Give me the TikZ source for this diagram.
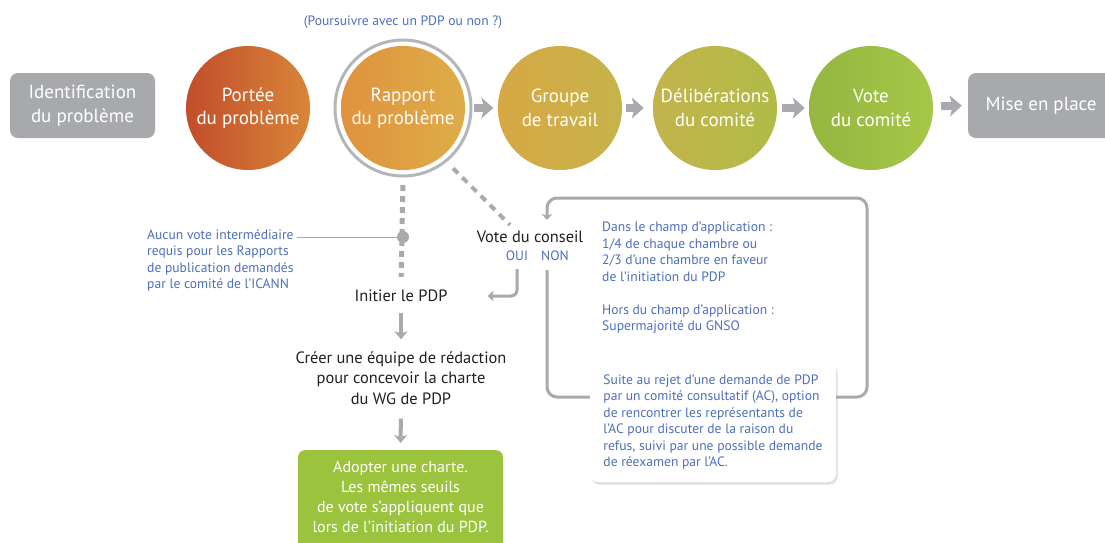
\documentclass[tikz,border=0pt]{standalone}
\usepackage{fontspec}
\setmainfont{PT Sans}
\usetikzlibrary{arrows.meta,shadows}
\definecolor{boxgray}{HTML}{A7A9AC}
\definecolor{ringgray}{HTML}{B5B6B8}
\definecolor{linkgray}{HTML}{A9AAAD}
\definecolor{noteblue}{HTML}{4D6FBA}
\definecolor{txtdark}{HTML}{231F20}
\definecolor{adoptgreen}{HTML}{9CC33E}
\definecolor{porteeL}{HTML}{C24D2B}
\definecolor{porteeR}{HTML}{D98539}
\definecolor{rapportL}{HTML}{E0923E}
\definecolor{rapportR}{HTML}{DDAD48}
\definecolor{groupeL}{HTML}{D7A845}
\definecolor{groupeR}{HTML}{C6B34B}
\definecolor{delibL}{HTML}{C2B44B}
\definecolor{delibR}{HTML}{B1BB47}
\definecolor{voteL}{HTML}{95B640}
\definecolor{voteR}{HTML}{A5C748}
\begin{document}
\begin{tikzpicture}[x=1pt,y=-1pt,
  endbox/.style={rectangle, rounded corners=8pt, fill=boxgray, text=white,
    font=\fontsize{19}{24}\selectfont, align=center, inner sep=0pt,
    minimum width=145pt, minimum height=65pt},
  stage/.style={circle, inner sep=0pt, minimum size=124pt, text=white,
    font=\fontsize{19}{23.5}\selectfont, align=center},
  flowarrow/.style={draw=linkgray, line width=8pt,
    -{Stealth[length=12pt,width=21pt,inset=3pt]}},
  bluetext/.style={text=noteblue, font=\fontsize{13.6}{16.5}\selectfont, inner sep=0pt},
  darktext/.style={text=txtdark, font=\fontsize{16.4}{20.5}\selectfont, inner sep=2pt, align=center},
  graylink/.style={draw=linkgray, line width=3pt},
  downarrow/.style={draw=linkgray, line width=4pt,
    -{Stealth[length=8pt,width=13pt,inset=2pt]}},
  dashlink/.style={draw=linkgray, line width=5pt, dash pattern=on 6pt off 5pt},
  dashdiag/.style={draw=linkgray, line width=4pt, dash pattern=on 7pt off 6pt}
]
\useasboundingbox (0,0) rectangle (1105,542);
\fill[white] (0,0) rectangle (1105,542);

% top row
\node[endbox] (ident) at (82.5,105.5) {Identification\\du problème};
\node[stage, left color=porteeL, right color=porteeR] (portee) at (248,108) {Portée\\du problème};
\node[circle, draw=ringgray, line width=3pt, minimum size=136pt, inner sep=0pt] (ring) at (403,108) {};
\node[stage, left color=rapportL, right color=rapportR] (rapport) at (403,108) {Rapport\\du problème};
\node[stage, left color=groupeL, right color=groupeR] (groupe) at (560,108) {Groupe\\de travail};
\node[stage, left color=delibL, right color=delibR] (delib) at (715,108) {Délibérations\\du comité};
\node[stage, left color=voteL, right color=voteR] (vote) at (871,108) {Vote\\du comité};
\node[endbox, minimum width=146pt] (mise) at (1041,105.5) {Mise en place};

\node[bluetext] (question) at (403,22) {(Poursuivre avec un PDP ou non ?)};

\draw[flowarrow, shorten <=1pt, shorten >=4.5pt] (ring.east |- rapport) -- (groupe);
\draw[flowarrow, shorten <=3.5pt, shorten >=9pt] (groupe) -- (delib);
\draw[flowarrow, shorten <=5pt, shorten >=4pt] (delib) -- (vote);
\draw[flowarrow, shorten <=8pt, shorten >=6pt] (vote) -- (mise.west);

% lower left branch
\node[darktext] (initier) at (401,296) {Initier le PDP};
\node[darktext] (creer) at (401,378) {Créer une équipe de rédaction\\pour concevoir la charte\\du WG de PDP};
\node[rectangle, rounded corners=7pt, fill=adoptgreen, minimum width=205pt, minimum height=130pt, anchor=north, inner sep=0pt] (adopt) at (400.5,450) {};
\node[text=white, font=\fontsize{16}{20}\selectfont, align=center, inner sep=0pt] (adopttext) at (400.5,497) {Adopter une charte.\\Les mêmes seuils\\de vote s'appliquent que\\lors de l'initiation du PDP.};

\draw[dashlink, shorten <=7.5pt, shorten >=11pt] (ring.south) -- (initier.north);
\node[circle, fill=linkgray, minimum size=12pt, inner sep=0pt] (dot) at (403,237) {};
\node[bluetext, align=left, anchor=north west] (note) at (147,229) {Aucun vote intermédiaire\\requis pour les Rapports\\de publication demandés\\par le comité de l'ICANN};
\draw[linkgray, line width=1pt, shorten >=3pt] (dot.west) -- (dot.west -| note.east);

\draw[downarrow, shorten <=9pt, shorten >=10pt] (initier.south) -- (creer.north);
\draw[downarrow, shorten <=12pt, shorten >=7pt] (creer.south) -- (adopt.north);

% council vote
\node[darktext] (conseil) at (530,237) {Vote du conseil};
\node[bluetext] (oui) at (517,256) {OUI};
\node[bluetext] (non) at (555,256) {NON};
\draw[dashdiag, shorten <=9pt] (ring.-51) -- ([xshift=-20pt,yshift=4pt]conseil.north);

\draw[graylink, rounded corners=6pt, -{Stealth[length=6pt,width=11pt,inset=1.5pt]}, shorten <=8pt, shorten >=38pt] (oui.south) |- (initier.east);

\coordinate (lbl) at (547,397);
\coordinate (lbr) at (867,397);
\coordinate (ltr) at (867,198);
\coordinate (ltl) at (547,198);
\coordinate (looptip) at (547,220);
\draw[graylink, rounded corners=10pt, -{Stealth[length=6pt,width=11pt,inset=1.5pt]}, shorten <=9pt] (non.south -| lbl) -- (lbl) -- (lbr) -- (ltr) -- (ltl) -- (looptip);

\node[bluetext, align=left, anchor=north west] (champ) at (602,222) {Dans le champ d'application :\\1/4 de chaque chambre ou\\2/3 d'une chambre en faveur\\de l'initiation du PDP\\[16.5pt]Hors du champ d'application :\\Supermajorité du GNSO};

\node[rectangle, rounded corners=8pt, fill=white, minimum width=246pt, minimum height=120pt,
  drop shadow={opacity=0.25, shadow xshift=1.5pt, shadow yshift=-2.5pt},
  bluetext, align=left] (rejet) at (713,422) {Suite au rejet d'une demande de PDP\\par un comité consultatif (AC), option\\de rencontrer les représentants de\\l'AC pour discuter de la raison du\\refus, suivi par une possible demande\\de réexamen par l'AC.};
\end{tikzpicture}
\end{document}
